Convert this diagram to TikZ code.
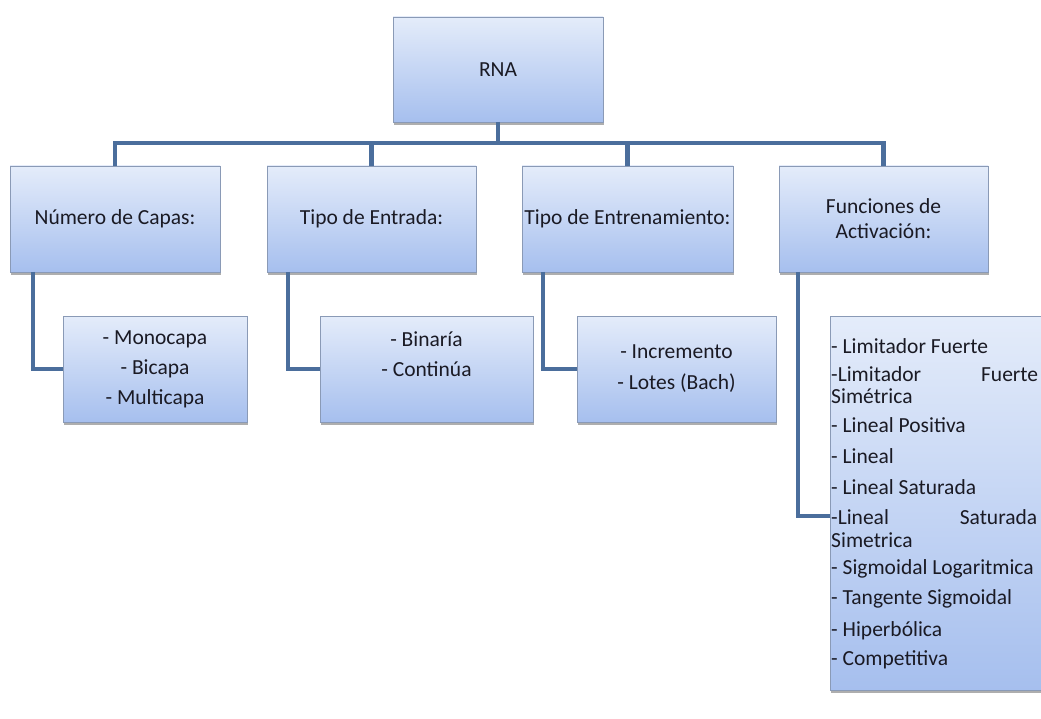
\documentclass[tikz,border=0pt]{standalone}
\usepackage{fontspec}
\setmainfont{Carlito}
\usetikzlibrary{shadows,calc}
\definecolor{conncol}{HTML}{4B6E9C}
\definecolor{boxtop}{HTML}{E4ECFA}
\definecolor{boxbot}{HTML}{A6BFEE}
\definecolor{boxline}{HTML}{8A9AB6}
\definecolor{txtcol}{HTML}{1A1A24}
\begin{document}
\begin{tikzpicture}[x=1pt,y=-1pt,
  boxstyle/.style={rectangle, draw=boxline, line width=0.8pt, top color=boxtop, bottom color=boxbot,
    inner sep=0pt, outer sep=0pt, align=center, text=txtcol, font=\fontsize{21.5}{26}\selectfont,
    drop shadow={shadow xshift=1pt, shadow yshift=-3pt, opacity=0.45, fill=black!70}},
  conn/.style={draw=conncol, line width=4.5pt},
  listtxt/.style={inner sep=0pt, anchor=west, text=txtcol, font=\fontsize{21.5}{23}\selectfont}
]
\useasboundingbox (0,0) rectangle (1041,719);
\fill[white] (0,0) rectangle (1041,719);

% top
\node[boxstyle, minimum width=210pt, minimum height=105pt] (rna) at (498,69.5) {RNA};

% level 1
\node[boxstyle, minimum width=210pt, minimum height=106pt] (b1) at (115,219) {Número de Capas:};
\node[boxstyle, minimum width=209pt, minimum height=106pt] (b2) at (371.5,219) {Tipo de Entrada:};
\node[boxstyle, minimum width=211pt, minimum height=106pt] (b3) at (627.5,219) {Tipo de Entrenamiento:};
\node[boxstyle, minimum width=209pt, minimum height=106pt, font=\fontsize{21.5}{25}\selectfont] (b4) at (883.5,219) {Funciones de\\Activación:};

% level 2
\node[boxstyle, minimum width=184pt, minimum height=106pt, font=\fontsize{21.5}{30}\selectfont] (ba) at (155,369) {- Monocapa\\- Bicapa\\- Multicapa};
\node[boxstyle, minimum width=213pt, minimum height=106pt, font=\fontsize{21.5}{30}\selectfont] (bb) at (426.5,369) {- Binaría\\- Continúa\\\phantom{X}};
\node[boxstyle, minimum width=199pt, minimum height=106pt, font=\fontsize{21.5}{31}\selectfont] (bc) at (676.5,369) {- Incremento\\- Lotes (Bach)};
\node[boxstyle, minimum width=211pt, minimum height=374pt] (fl) at (935.5,503) {};

% list text
\node[listtxt] (f1) at (831,346) {- Limitador Fuerte};
\node[listtxt, text width=207pt, align=left] (f2) at (831,374) {-Limitador\hfill Fuerte};
\node[listtxt] (f3) at (831,396) {Simétrica};
\node[listtxt] (f4) at (831,425) {- Lineal Positiva};
\node[listtxt] (f5) at (831,456) {- Lineal};
\node[listtxt] (f6) at (831,487) {- Lineal Saturada};
\node[listtxt, text width=206pt, align=left] (f7) at (831,517) {-Lineal\hfill Saturada};
\node[listtxt] (f8) at (831,540) {Simetrica};
\node[listtxt] (f9) at (831,569) {- Sigmoidal Logaritmica};
\node[listtxt] (f10) at (831,599) {- Tangente Sigmoidal};
\node[listtxt] (f11) at (831,631) {- Hiperbólica};
\node[listtxt] (f12) at (831,660) {- Competitiva};

% connectors level 0-1
\coordinate (bar) at (498,143);
\draw[conn] (rna.south) -- (bar);
\draw[conn] (b1.north) |- (bar) -| (b4.north);
\draw[conn] (b2.north) -- (b2.north |- bar);
\draw[conn] (b3.north) -- (b3.north |- bar);

% connectors level 1-2
\draw[conn] ([xshift=23pt]b1.south west) |- (ba.west);
\draw[conn] ([xshift=21pt]b2.south west) |- (bb.west);
\draw[conn] ([xshift=21pt]b3.south west) |- (bc.west);
\draw[conn] ([xshift=19pt]b4.south west) |- ([yshift=-13pt]fl.west);
\end{tikzpicture}
\end{document}
